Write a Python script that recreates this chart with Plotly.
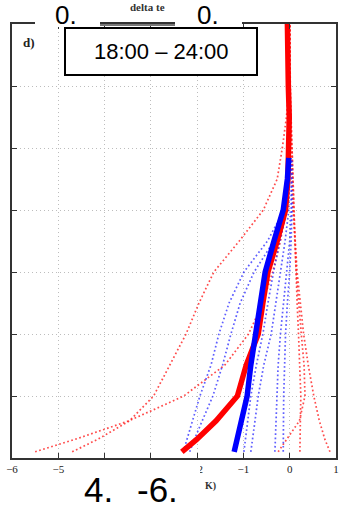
import plotly.graph_objects as go

# ---------------- data (temperature difference in K vs. height level) ----------------
heights_red = [0.1, 0.3, 0.6, 1.0, 1.5, 2.0, 2.5, 3.0, 3.5, 4.0, 4.5, 5.0, 5.5, 6.0, 6.5, 7.0]
heights_blue = [0.1, 0.3, 0.6, 1.0, 1.5, 2.0, 2.5, 3.0, 3.5, 4.0, 4.5, 4.84]

red_mean = [-2.33, -2.01, -1.59, -1.13, -0.94, -0.68, -0.58, -0.47, -0.27, -0.09, -0.04, -0.02, -0.01, -0.03, -0.04, -0.05]
blue_mean = [-1.20, -1.14, -1.05, -0.92, -0.84, -0.73, -0.62, -0.53, -0.34, -0.14, -0.05, -0.02]

red_members = [
    [-5.50, -4.64, -3.47, -2.29, -1.40, -0.89, -0.58, -0.37, -0.20, -0.09, -0.02, -0.01, 0.0, 0.0, 0.0, 0.0],
    [-4.70, -4.15, -3.46, -2.94, -2.59, -2.24, -1.96, -1.64, -1.09, -0.57, -0.27, -0.16, -0.07, -0.02, 0.0, 0.0],
    [0.87, 0.76, 0.64, 0.52, 0.40, 0.30, 0.23, 0.16, 0.12, 0.07, 0.05, 0.03, 0.01, 0.0, 0.0, 0.0],
    [-0.25, -0.07, 0.21, 0.33, 0.31, 0.25, 0.19, 0.14, 0.11, 0.09, 0.07, 0.05, 0.02, 0.01, 0.0, 0.0],
    [0.22, 0.22, 0.23, 0.24, 0.22, 0.19, 0.16, 0.14, 0.11, 0.09, 0.07, 0.05, 0.02, 0.01, 0.0, 0.0],
]
blue_members = [
    [-2.30, -2.22, -2.11, -1.94, -1.70, -1.53, -1.31, -0.99, -0.48, -0.12, -0.04, -0.02],
    [-2.16, -2.06, -1.89, -1.66, -1.45, -1.27, -1.07, -0.77, -0.34, -0.09, -0.03, -0.01],
    [-0.99, -0.96, -0.90, -0.84, -0.72, -0.58, -0.47, -0.35, -0.21, -0.06, -0.01, 0.0],
    [-0.84, -0.81, -0.75, -0.68, -0.56, -0.40, -0.30, -0.19, -0.10, -0.02, 0.0, 0.01],
    [-0.32, -0.31, -0.30, -0.28, -0.25, -0.20, -0.13, -0.06, 0.0, 0.03, 0.03, 0.03],
    [-0.14, -0.14, -0.14, -0.13, -0.11, -0.09, -0.05, 0.0, 0.03, 0.05, 0.05, 0.05],
]

x_ticks = [-6, -5, -4, -3, -2, -1, 0, 1]
# labels for -4 and -3 are hidden behind the white patch in the original
x_ticktext = ["\u22126", "\u22125", "", "", "\u22122", "\u22121", "0", "1"]
y_ticks = [1, 2, 3, 4, 5, 6]

# ---------------- figure ----------------
W, H = 341, 508
ML, MR, MT, MB = 12, 5, 24, 50
PW, PH = W - ML - MR, H - MT - MB


def px(x):
    return (x - ML) / PW


def py(y):
    return (H - MB - y) / PH


fig = go.Figure()

for xs in red_members:
    fig.add_trace(go.Scatter(x=xs, y=heights_red, mode="lines",
                             line=dict(color="rgba(255,30,30,0.8)", width=1.7, dash="1.7px,2.5px"),
                             hoverinfo="skip", showlegend=False))
for xs in blue_members:
    fig.add_trace(go.Scatter(x=xs, y=heights_blue, mode="lines",
                             line=dict(color="rgba(40,40,255,0.75)", width=1.7, dash="1.7px,2.5px"),
                             hoverinfo="skip", showlegend=False))

fig.add_trace(go.Scatter(x=red_mean, y=heights_red, mode="lines",
                         line=dict(color="#ff0000", width=5.5), showlegend=False))
fig.add_trace(go.Scatter(x=blue_mean, y=heights_blue, mode="lines",
                         line=dict(color="#0000ff", width=5.5), showlegend=False))

axis_common = dict(showline=True, linecolor="#333333", linewidth=1.5, mirror="ticks",
                   ticks="inside", ticklen=5, tickcolor="#333333",
                   showgrid=True, gridcolor="#bdbdbd", griddash="1px,3px", gridwidth=1.2,
                   zeroline=False)

fig.update_xaxes(range=[-6, 1], tickvals=x_ticks, ticktext=x_ticktext,
                 tickfont=dict(family="Liberation Serif", size=11, color="#222"), **axis_common)
fig.update_yaxes(range=[0, 7], tickvals=y_ticks, showticklabels=False, **axis_common)

shapes = [
    # white patches over the top frame
    dict(type="rect", xref="paper", yref="paper", x0=px(35), x1=px(100), y0=py(27), y1=py(0),
         fillcolor="white", line=dict(width=0), layer="above"),
    dict(type="rect", xref="paper", yref="paper", x0=px(175), x1=px(242), y0=py(27), y1=py(0),
         fillcolor="white", line=dict(width=0), layer="above"),
    # darker strip on top frame
    dict(type="line", xref="paper", yref="paper", x0=px(100), x1=px(175), y0=py(25), y1=py(25),
         line=dict(color="#777", width=2.2), layer="above"),
    # time-window box
    dict(type="rect", xref="paper", yref="paper", x0=px(65), x1=px(257), y0=py(75), y1=py(28),
         fillcolor="white", line=dict(color="black", width=2), layer="above"),
    # white patch at bottom
    dict(type="rect", xref="paper", yref="paper", x0=px(65), x1=px(200), y0=py(508), y1=py(460),
         fillcolor="white", line=dict(width=0), layer="above"),
]

sans = "Liberation Sans, Arial, sans-serif"
serif = "Liberation Serif, DejaVu Serif, serif"


def ann(text, x, y, size, family, color="black", xanchor="center"):
    return dict(text=text, xref="paper", yref="paper", x=px(x), y=py(y), showarrow=False,
                xanchor=xanchor, yanchor="middle", font=dict(family=family, size=size, color=color))


annotations = [
    ann("0.", 66, 15, 26, sans),
    ann("0.", 208, 15, 26, sans),
    ann("<b>delta te</b>", 128, 7, 11, serif, "#333", xanchor="left"),
    ann("18:00 \u2013 24:00", 161, 51, 22, sans),
    ann("<b>d)</b>", 29, 43, 13, serif, "#222"),
    ann("4.", 98, 489, 35, sans),
    ann("-6.", 157, 489, 35, sans),
    ann("<b>K)</b>", 203, 486, 10, serif, "#333", xanchor="left"),
]

fig.update_layout(width=W, height=H, margin=dict(l=ML, r=MR, t=MT, b=MB, autoexpand=False),
                  paper_bgcolor="white", plot_bgcolor="white",
                  shapes=shapes, annotations=annotations, showlegend=False)

fig.write_html("out.html")
